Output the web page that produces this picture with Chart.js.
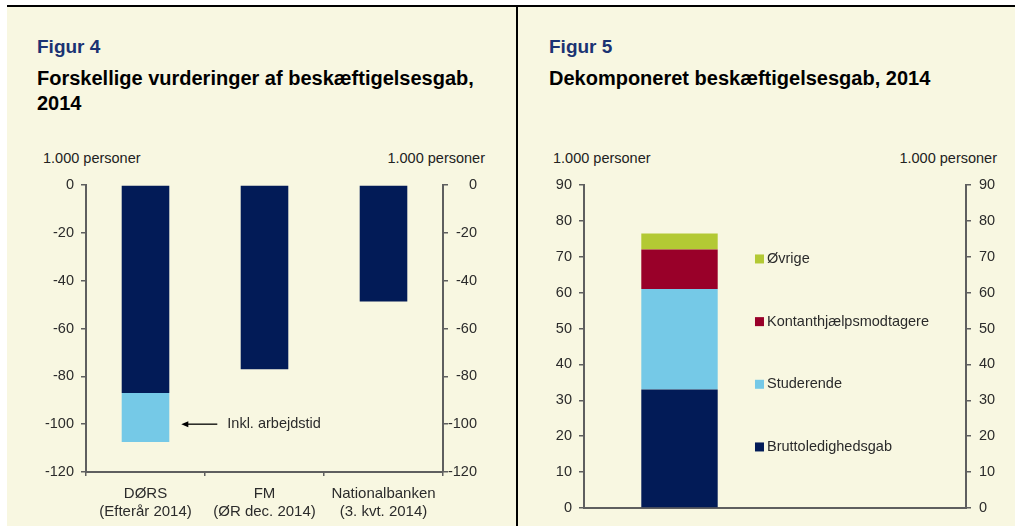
<!DOCTYPE html>
<html>
<head>
<meta charset="utf-8">
<script src="https://cdn.jsdelivr.net/npm/chart.js@4.4.1/dist/chart.umd.min.js"></script>
<style>
  html, body { margin:0; padding:0; background:#ffffff; width:1015px; height:526px; overflow:hidden; }
  body { position:relative; font-family:"Liberation Sans", Arial, sans-serif; }
  #panel { position:absolute; left:7px; top:7px; width:1008px; height:519px; background:#F8F7E1; }
  #topline { position:absolute; left:7px; top:5px; width:1008px; height:2px; background:#000; }
  #midline { position:absolute; left:516px; top:5px; width:2px; height:521px; background:#000; }
  .fig { position:absolute; font-weight:bold; font-size:19px; color:#1B3373; line-height:20px; white-space:nowrap; }
  .ttl { position:absolute; font-weight:bold; font-size:20px; color:#000; line-height:25px; white-space:nowrap; }
  .unit { position:absolute; font-size:14.5px; color:#222; line-height:18px; white-space:nowrap; }
  canvas { position:absolute; }
</style>
</head>
<body>
<div id="panel"></div>
<div id="topline"></div>
<div id="midline"></div>

<div class="fig" style="left:37px; top:37px;">Figur 4</div>
<div class="ttl" style="left:37px; top:66px;">Forskellige vurderinger af beskæftigelsesgab,<br>2014</div>
<div class="unit" style="left:43px; top:149px;">1.000 personer</div>
<div class="unit" style="right:530px; top:149px;">1.000 personer</div>

<div class="fig" style="left:549px; top:37px;">Figur 5</div>
<div class="ttl" style="left:549px; top:66px;">Dekomponeret beskæftigelsesgab, 2014</div>
<div class="unit" style="left:553px; top:149px;">1.000 personer</div>
<div class="unit" style="right:18px; top:149px;">1.000 personer</div>

<div style="position:absolute; left:7px; top:140px; width:470px; height:386px;"><canvas id="c1"></canvas></div>
<div style="position:absolute; left:519px; top:140px; width:496px; height:386px;"><canvas id="c2"></canvas></div>

<script>
// ---------- Figure 4 data ----------
const fig4Categories = [['DØRS', '(Efterår 2014)'], ['FM', '(ØR dec. 2014)'], ['Nationalbanken', '(3. kvt. 2014)']];
const fig4Gap = [-87, -77, -48.7];
const fig4InclWorkHours = [-20.5, null, null];
const fig4Ticks = [0, -20, -40, -60, -80, -100, -120];
const fig4Annotation = 'Inkl. arbejdstid';

// ---------- Figure 5 data ----------
const fig5Categories = ['2014', ''];
const fig5Brutto = [33, null];
const fig5Studerende = [28, null];
const fig5Kontant = [11, null];
const fig5Ovrige = [4.5, null];
const fig5Ticks = [0, 10, 20, 30, 40, 50, 60, 70, 80, 90];

const NAVY = '#021B57', LIGHT = '#75C9E7', RED = '#990029', GREEN = '#B3C934';
const AXIS = '#5f5f5f', TXT = '#2b2b2b';
const FONT = { family: '"Liberation Sans", Arial, sans-serif', size: 14.5 };

function fixW(w) { return function (s) { s.width = w; }; }
function fixH(h) { return function (s) { s.height = h; }; }

function yAxis(pos, ticks, width, pad, extra) {
  return Object.assign({
    type: 'linear', position: pos, stacked: true,
    min: Math.min(...ticks), max: Math.max(...ticks),
    afterBuildTicks: (s) => { s.ticks = ticks.map(v => ({ value: v })); },
    afterFit: fixW(width),
    grid: { drawOnChartArea: false, drawTicks: true, tickLength: 5, color: AXIS, lineWidth: 1.5 },
    border: { display: true, color: AXIS, width: 2 },
    ticks: { color: TXT, font: FONT, padding: pad }
  }, extra || {});
}

Chart.defaults.animation = false;
Chart.defaults.responsive = true;
Chart.defaults.maintainAspectRatio = false;

// arrow + text annotation
const arrowPlugin = {
  id: 'arrowNote',
  afterDatasetsDraw(chart) {
    const bar = chart.getDatasetMeta(1).data[0];
    const y = chart.scales.y.getPixelForValue(-100);
    const x0 = bar.x + bar.width / 2 + 12;
    const x1 = x0 + 36;
    const ctx = chart.ctx;
    ctx.save();
    ctx.strokeStyle = '#000'; ctx.fillStyle = '#000'; ctx.lineWidth = 1.3;
    ctx.beginPath(); ctx.moveTo(x0 + 5, y); ctx.lineTo(x1, y); ctx.stroke();
    ctx.beginPath(); ctx.moveTo(x0, y); ctx.lineTo(x0 + 7, y - 3); ctx.lineTo(x0 + 7, y + 3); ctx.closePath(); ctx.fill();
    ctx.font = '14.5px "Liberation Sans", Arial, sans-serif';
    ctx.fillStyle = TXT; ctx.textBaseline = 'middle'; ctx.textAlign = 'left';
    ctx.fillText(fig4Annotation, x1 + 10, y);
    ctx.restore();
  }
};

new Chart(document.getElementById('c1'), {
  type: 'bar',
  data: {
    labels: fig4Categories,
    datasets: [
      { label: 'Beskæftigelsesgab', data: fig4Gap, backgroundColor: NAVY, yAxisID: 'y' },
      { label: fig4Annotation, data: fig4InclWorkHours, backgroundColor: LIGHT, yAxisID: 'y' }
    ]
  },
  options: {
    layout: { padding: { top: 45, left: 0, right: 0, bottom: 0 } },
    datasets: { bar: { categoryPercentage: 1, barPercentage: 0.4, borderWidth: 0 } },
    plugins: { legend: { display: false }, tooltip: { enabled: false } },
    scales: {
      x: {
        stacked: true,
        afterFit: fixH(54),
        grid: { offset: true, drawOnChartArea: false, drawTicks: true, tickLength: 4, color: AXIS, lineWidth: 1.5 },
        border: { display: true, color: AXIS, width: 2 },
        ticks: { color: TXT, font: Object.assign({ lineHeight: 1.25 }, FONT, { size: 15 }), padding: 8, maxRotation: 0, autoSkip: false }
      },
      y: yAxis('left', fig4Ticks, 79, 7),
      y2: yAxis('right', fig4Ticks, 34, 6, { ticks: { color: TXT, font: FONT, padding: 6, crossAlign: 'far' } })
    }
  },
  plugins: [arrowPlugin]
});

// in-plot legend for figure 5
const legendPlugin = {
  id: 'inPlotLegend',
  afterDatasetsDraw(chart) {
    const a = chart.chartArea, ctx = chart.ctx;
    const ds = chart.data.datasets.slice().reverse();
    ctx.save();
    ctx.font = '14.5px "Liberation Sans", Arial, sans-serif';
    ctx.textBaseline = 'middle'; ctx.textAlign = 'left';
    ds.forEach((d, i) => {
      const y = a.top + (a.bottom - a.top) * (0.229 + i * 0.194);
      const x = a.left + (a.right - a.left) * 0.4476;
      ctx.fillStyle = d.backgroundColor;
      ctx.fillRect(x, y - 4.5, 9, 9);
      ctx.fillStyle = TXT;
      ctx.fillText(d.label, x + 12, y);
    });
    ctx.restore();
  }
};

new Chart(document.getElementById('c2'), {
  type: 'bar',
  data: {
    labels: fig5Categories,
    datasets: [
      { label: 'Bruttoledighedsgab', data: fig5Brutto, backgroundColor: NAVY },
      { label: 'Studerende', data: fig5Studerende, backgroundColor: LIGHT },
      { label: 'Kontanthjælpsmodtagere', data: fig5Kontant, backgroundColor: RED },
      { label: 'Øvrige', data: fig5Ovrige, backgroundColor: GREEN }
    ]
  },
  options: {
    layout: { padding: { top: 45, left: 0, right: 0, bottom: 0 } },
    datasets: { bar: { categoryPercentage: 1, barPercentage: 0.4, borderWidth: 0 } },
    plugins: { legend: { display: false }, tooltip: { enabled: false } },
    scales: {
      x: {
        stacked: true,
        afterFit: fixH(18),
        grid: { display: false },
        border: { display: true, color: AXIS, width: 2 },
        ticks: { display: false }
      },
      y: yAxis('left', fig5Ticks, 65, 7),
      y2: yAxis('right', fig5Ticks, 49, 8)
    }
  },
  plugins: [legendPlugin]
});
</script>
</body>
</html>
